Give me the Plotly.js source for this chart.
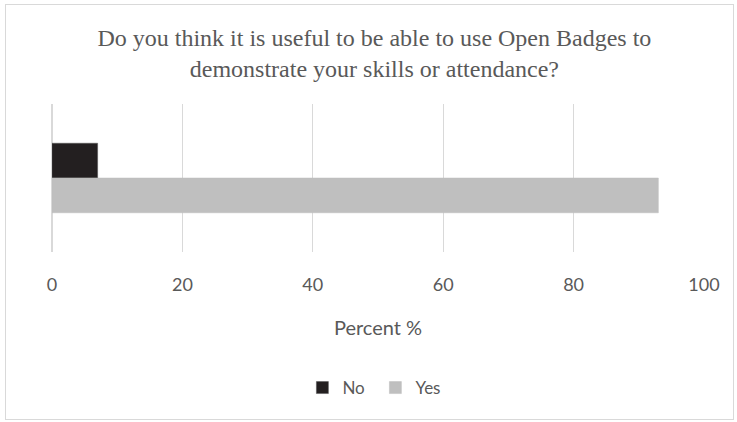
<!DOCTYPE html>
<html>
<head>
<meta charset="utf-8">
<script src="https://cdn.plot.ly/plotly-3.0.1.min.js"></script>
<style>
html,body{margin:0;padding:0;background:#fff;}
#wrap{position:relative;width:737px;height:422px;}
#chart{width:737px;height:422px;}
#frame{position:absolute;left:5px;top:4px;width:727px;height:414px;border:1px solid #d9d9d9;pointer-events:none;}
</style>
</head>
<body>
<div id="wrap"><div id="chart"></div><div id="frame"></div></div>
<script>
const categories = ["Q"];
const seriesNames = ["No", "Yes"];
const noValues = [7];
const yesValues = [93];
const xTicks = [0, 20, 40, 60, 80, 100];

const traces = [
  {type: "bar", orientation: "h", name: seriesNames[0], y: categories, x: noValues,
   marker: {color: "#231f20", line: {color: "#555", width: 0.5}}},
  {type: "bar", orientation: "h", name: seriesNames[1], y: categories, x: yesValues,
   marker: {color: "#bfbfbf", line: {color: "#bfbfbf", width: 0.5}}}
];

const sansFont = "Lato, Open Sans, sans-serif";

const layout = {
  width: 737, height: 422,
  margin: {l: 52, r: 33, t: 104, b: 170},
  paper_bgcolor: "#fff", plot_bgcolor: "#fff",
  barmode: "group", bargap: 0.53, bargroupgap: 0,
  showlegend: true,
  title: {
    text: "Do you think it is useful to be able to use Open Badges to<br>demonstrate your skills or attendance?",
    font: {family: "Liberation Serif, Times New Roman, serif", size: 24, color: "#595959"},
    x: 0.508, xanchor: "center", y: 1 - 46/422, yanchor: "middle", yref: "container"
  },
  xaxis: {
    range: [0, 100], tickvals: xTicks, ticktext: xTicks.map(String),
    showgrid: true, gridcolor: "#d9d9d9", gridwidth: 1.3, zeroline: true, zerolinecolor: "#d9d9d9", zerolinewidth: 1.3,
    showline: false, ticks: "", ticklabelstandoff: 20,
    tickfont: {family: sansFont, size: 18, color: "#595959"},
    title: {text: "Percent %", standoff: 26, font: {family: sansFont, size: 20, color: "#595959"}},
    fixedrange: true
  },
  yaxis: {
    showticklabels: false, showgrid: false, zeroline: false, showline: false,
    autorange: "reversed", fixedrange: true
  },
  legend: {
    orientation: "h", x: 0.496, xanchor: "center", y: (252-388)/148, yanchor: "middle",
    font: {family: sansFont, size: 17, color: "#595959"},
    itemwidth: 30, itemclick: false, entrywidth: 28, entrywidthmode: "pixels"
  }
};

Plotly.newPlot("chart", traces, layout, {displayModeBar: false, staticPlot: true});
</script>
</body>
</html>
